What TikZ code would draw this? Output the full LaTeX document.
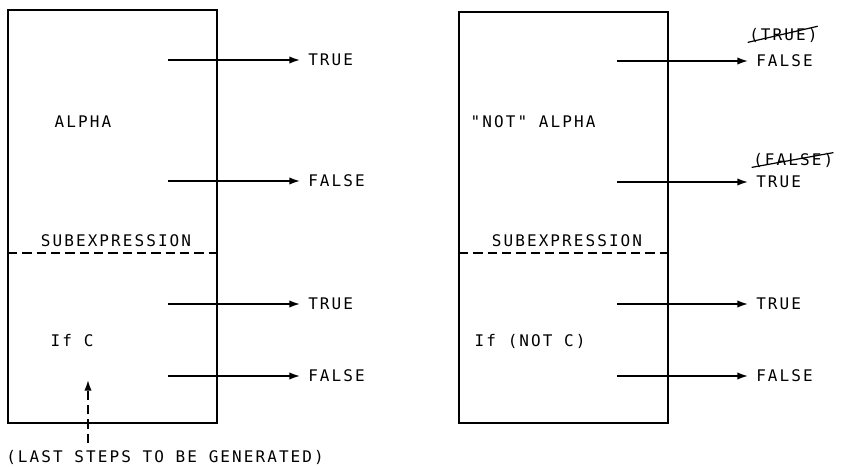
\documentclass[tikz,border=0pt]{standalone}
\usepackage{fontspec}
\setmonofont{DejaVu Sans Mono}[LetterSpace=13]
\usetikzlibrary{arrows.meta}

\begin{document}
\begin{tikzpicture}[x=0.75pt, y=-0.75pt, font=\ttfamily\fontsize{12}{14}\selectfont,
    box/.style={line width=1.4pt},
    flow/.style={line width=1.2pt, -{Latex[length=8pt,width=5.5pt]}},
    outcome/.style={anchor=west, inner xsep=6pt, inner ysep=1pt},
    crossed/.style={anchor=west, inner sep=0pt},
    split/.style={line width=1.2pt, dash pattern=on 7pt off 3.75pt}]
    \useasboundingbox (0,0) rectangle (844,467);

    % left: ALPHA over the subexpression
    \draw[box] (8,10) rectangle (217,423);
    \draw[split] (8,253) -- (217,253);
    \node[anchor=west] (alpha) at (50,122) {ALPHA};
    \node (subl) at (116,241) {SUBEXPRESSION};
    \node[anchor=west] (ifc) at (46,341) {If C};

    \foreach \y/\t [count=\i] in {60/TRUE, 181/FALSE, 304/TRUE, 376/FALSE} {
        \coordinate (ls\i) at (168,\y);
        \node[outcome] (lo\i) at (300,\y) {\t};
        \draw[flow] (ls\i) -- (lo\i);
    }

    % right: "NOT" ALPHA over the subexpression
    \draw[box] (459,12) rectangle (668,423);
    \draw[split] (459,253) -- (668,253);
    \node[anchor=west] (notalpha) at (466,122) {"NOT" ALPHA};
    \node (subr) at (567,241) {SUBEXPRESSION};
    \node[anchor=west] (ifnotc) at (470,341) {If (NOT C)};

    \foreach \y/\t [count=\i] in {61/FALSE, 182/TRUE, 304/TRUE, 376/FALSE} {
        \coordinate (rs\i) at (617,\y);
        \node[outcome] (ro\i) at (748,\y) {\t};
        \draw[flow] (rs\i) -- (ro\i);
    }

    % old outcomes, struck out
    \node[crossed] (was1) at (749,35) {(TRUE)};
    \node[crossed] (was2) at (753,160) {(FALSE)};
    \draw[line width=0.9pt] ([xshift=-1pt]was1.south west) -- ([yshift=1pt]was1.north east);
    \draw[line width=0.9pt] ([xshift=-1pt]was2.south west) -- (was2.north east);

    % generated last
    \node[anchor=west, inner sep=0pt] (laststeps) at (6,457) {(LAST STEPS TO BE GENERATED)};
    \coordinate (gen0) at (88,443);
    \coordinate (gen1) at (88,380);
    \draw[flow, split] (gen0) -- (gen1);
\end{tikzpicture}
\end{document}
